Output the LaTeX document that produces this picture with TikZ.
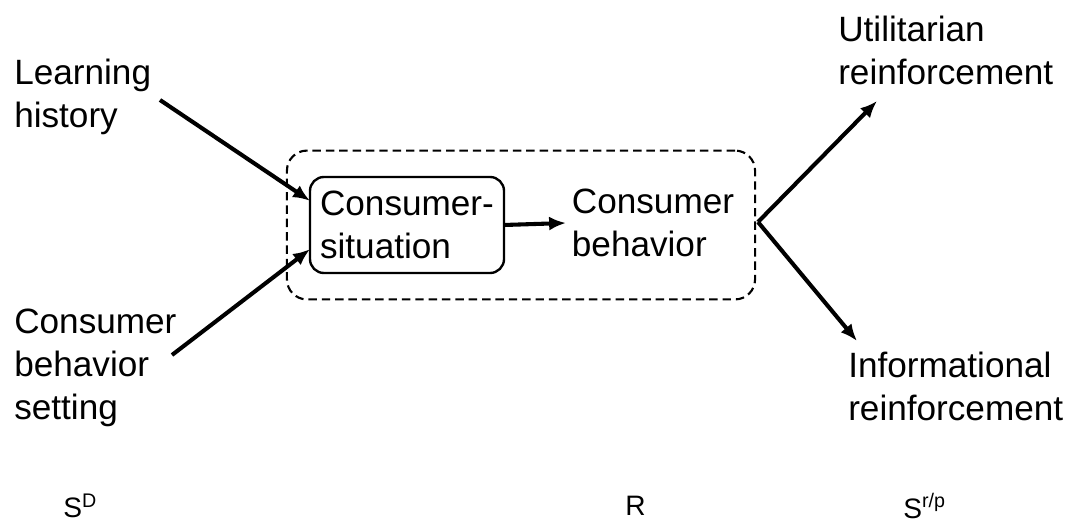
\documentclass[tikz,border=0pt]{standalone}
\usepackage{fontspec}
\setmainfont{Liberation Sans}
\usepackage{tikz}
\usetikzlibrary{arrows.meta}

\begin{document}
\begin{tikzpicture}[x=0.025cm,y=-0.025cm]
		\tikzstyle{Label}=[anchor=west,align=left,inner sep=0pt,font=\fontsize{25}{30.5}\selectfont]
		\tikzstyle{Bottom}=[anchor=west,inner sep=0pt,font=\fontsize{20}{24}\selectfont]
		\tikzstyle{Arr}=[line width=2.9pt,-{Latex[length=12pt,width=10pt]}]
		\useasboundingbox (0,0) rectangle (1072,523);
		% outer dashed frame
		\node[draw,dash pattern=on 6pt off 3.5pt,line width=1.5pt,rounded corners=0.5cm,minimum width=11.7cm,minimum height=3.72cm,inner sep=0pt] (group) at (521,225) {};
		\node[draw,line width=1.7pt,rounded corners=0.35cm,minimum width=4.85cm,minimum height=2.4cm,inner sep=0pt,outer sep=0pt,font=\fontsize{25}{30.5}\selectfont,align=left] (sit) at (407,225) {Consumer-\\situation};
		\node[Label,inner sep=4pt] (beh) at (566,223) {Consumer\\behavior};
		\node[Label] (learn) at (14,97) {Learning\\history};
		\node[Label] (setting) at (14,368) {Consumer\\behavior\\setting};
		\node[Label] (util) at (838,50) {Utilitarian\\reinforcement};
		\node[Label] (info) at (848,386) {Informational\\reinforcement};
		\node[Bottom] (sd) at (63,506) {S\textsuperscript{D}};
		\node[Bottom] (r) at (625,506) {R};
		\node[Bottom] (srp) at (903,506) {S\textsuperscript{r/p}};
		\coordinate (learn-tail) at (160,100);
		\coordinate (setting-tail) at (172,355);
		\coordinate (fork) at (758,222);
		\coordinate (util-tip) at (877,101);
		\coordinate (info-tip) at (857,341);
		\draw[Arr] (learn-tail) -- (sit.166);
		\draw[Arr] (setting-tail) -- (sit.194);
		\draw[Arr] (sit.east) -- (beh.west);
		\draw[Arr] (fork) -- (util-tip);
		\draw[Arr] (fork) -- (info-tip);
	\end{tikzpicture}
\end{document}
